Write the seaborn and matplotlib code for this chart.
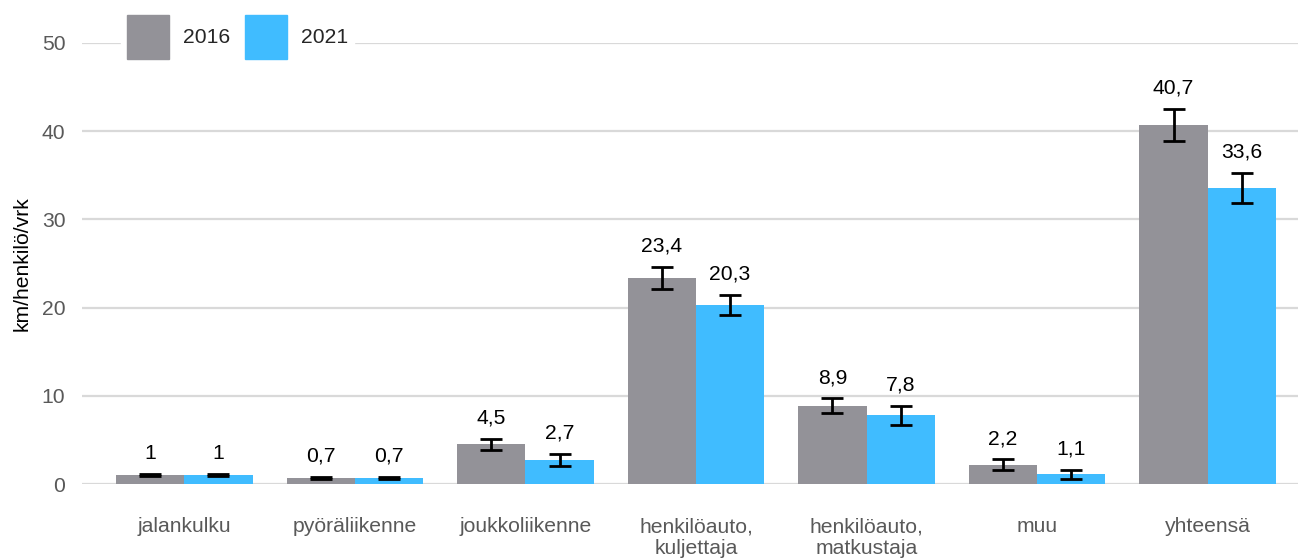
import numpy as np
import pandas as pd
import matplotlib
matplotlib.use('Agg')
import matplotlib.pyplot as plt
import seaborn as sns

categories = ['jalankulku', 'pyöräliikenne', 'joukkoliikenne', 'henkilöauto,\nkuljettaja',
              'henkilöauto,\nmatkustaja', 'muu', 'yhteensä']
years = ['2016', '2021']
values_2016 = [1.0, 0.7, 4.5, 23.4, 8.9, 2.2, 40.7]
values_2021 = [1.0, 0.7, 2.7, 20.3, 7.8, 1.1, 33.6]
err_2016 = [0.1, 0.1, 0.65, 1.25, 0.8, 0.6, 1.8]
err_2021 = [0.1, 0.1, 0.7, 1.15, 1.1, 0.5, 1.7]
colors = ['#939298', '#40BCFF']

df = pd.DataFrame({
    'kategoria': categories * 2,
    'vuosi': [years[0]] * len(categories) + [years[1]] * len(categories),
    'km': values_2016 + values_2021,
})

sns.set_theme(style='white')
plt.rcParams['font.family'] = ['Liberation Sans', 'DejaVu Sans']
fs = 15.2

fig = plt.figure(figsize=(12.98, 5.6), dpi=100)
ax = fig.add_axes([82 / 1298, 1 - 484 / 560, 1 - 82 / 1298, (484 - 43) / 560])

sns.barplot(data=df, x='kategoria', y='km', hue='vuosi', order=categories, hue_order=years,
            palette=colors, width=0.8, saturation=1, errorbar=None, linewidth=0,
            ax=ax, zorder=2)

# virhepalkit ja arvot
for cont, vals, errs in zip(ax.containers, [values_2016, values_2021], [err_2016, err_2021]):
    xs = [p.get_x() + p.get_width() / 2 for p in cont.patches]
    ax.errorbar(xs, vals, yerr=errs, fmt='none', ecolor='black', elinewidth=2,
                capsize=8, capthick=2, zorder=3)
    for x, v, e in zip(xs, vals, errs):
        lab = f'{v:g}'.replace('.', ',')
        ax.annotate(lab, (x, v + e), xytext=(0, 11), textcoords='offset points',
                    ha='center', va='baseline', fontsize=fs, color='black')

ax.set_ylim(0, 50)
ax.set_xlim(-0.6, 6.53)
ax.set_yticks([0, 10, 20, 30, 40, 50])
ax.yaxis.grid(True, color='#d9d9d9', linewidth=1.6, zorder=0)
ax.set_axisbelow(True)
for s in ax.spines.values():
    s.set_visible(False)
ax.tick_params(axis='y', length=0, pad=12, labelsize=fs, labelcolor='#595959')
ax.tick_params(axis='x', length=0, pad=24, labelsize=fs, labelcolor='#595959')
ax.set_xlabel('')
ax.set_ylabel('km/henkilö/vrk', fontsize=fs, color='black', labelpad=7)

ax.legend_.remove()
handles = [plt.Rectangle((0, 0), 1, 1, color=c) for c in colors]
leg = fig.legend(handles, years, loc='center left', bbox_to_anchor=(110 / 1298, 1 - 37 / 560),
                 ncol=2, frameon=True, framealpha=1, edgecolor='white', facecolor='white',
                 fontsize=fs, handlelength=2.0, handleheight=2.8, handletextpad=0.65,
                 columnspacing=0.7, borderpad=0.3, fancybox=False)

fig.savefig('out.png', dpi=100)
